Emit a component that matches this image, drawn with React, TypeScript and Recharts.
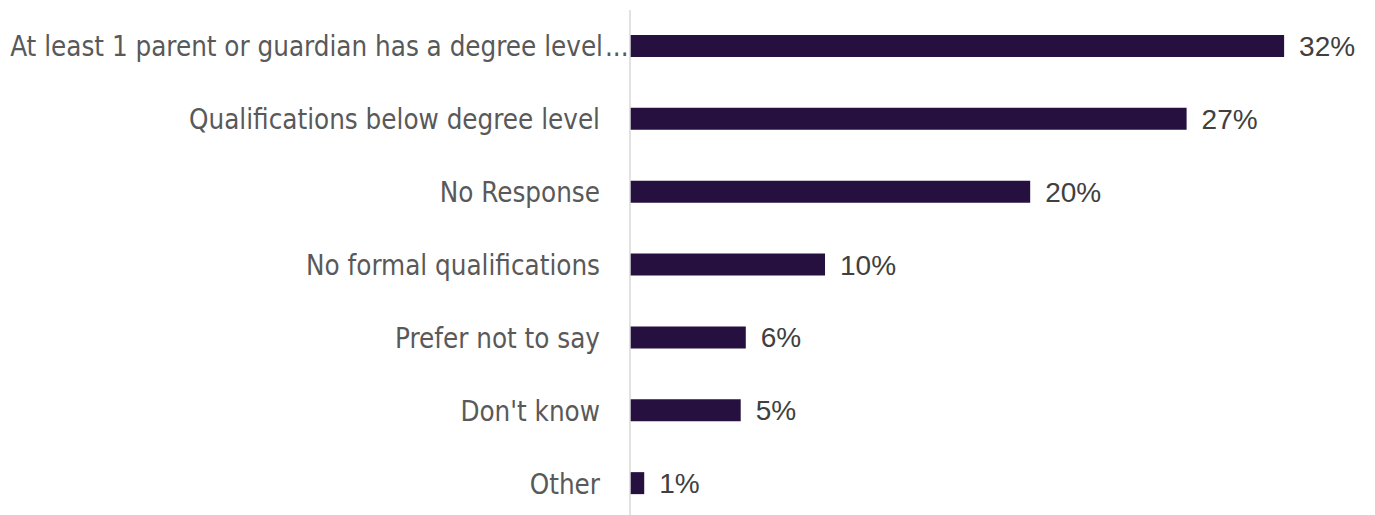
import React from "react";
import { BarChart, Bar, XAxis, YAxis, LabelList } from "recharts";

const categories = [
  "At least 1 parent or guardian has a degree level...",
  "Qualifications below degree level",
  "No Response",
  "No formal qualifications",
  "Prefer not to say",
  "Don't know",
  "Other",
];
const values = [32.2, 27.4, 19.7, 9.6, 5.7, 5.45, 0.7];

const data = categories.map((c, i) => ({ name: c, value: values[i] }));

const ELLIPSIS = "...";

const CategoryTick = (props: any) => {
  const { x, y, payload } = props;
  const label: string = payload.value;
  const truncated = label.endsWith(ELLIPSIS);
  const main = truncated ? label.slice(0, -ELLIPSIS.length) : label;
  const style = {
    fontFamily: "'DejaVu Sans Condensed', 'DejaVu Sans', sans-serif",
    fontStretch: "condensed" as const,
    fontSize: 27.5,
    fill: "#595959",
  };
  return (
    <g>
      <text x={x - (truncated ? 19 : 22)} y={y} dy={10} textAnchor="end" style={style}>
        {main}
      </text>
      {truncated && (
        <text x={x - 17} y={y} dy={10} textAnchor="start" style={style}>
          {ELLIPSIS}
        </text>
      )}
    </g>
  );
};

export default function App() {
  return (
    <div style={{ position: "absolute", left: 0, top: 0, background: "#fff" }}>
      <BarChart
        width={1375}
        height={520}
        data={data}
        layout="vertical"
        margin={{ top: 10, right: 34, bottom: 0, left: 0 }}
      >
        <XAxis type="number" domain={[0, 35]} hide />
        <YAxis
          type="category"
          dataKey="name"
          width={630}
          axisLine={{ stroke: "#d9d9d9", strokeWidth: 1.5 }}
          tickLine={false}
          interval={0}
          tick={<CategoryTick />}
        />
        <Bar dataKey="value" fill="#261040" barSize={22} isAnimationActive={false}>
          <LabelList
            dataKey="value"
            position="right"
            offset={15}
            formatter={(v: any) => `${Math.round(Number(v))}%`}
            style={{ fontFamily: "'Liberation Sans', Arial, sans-serif", fontSize: 28, fill: "#404040" }}
          />
        </Bar>
      </BarChart>
    </div>
  );
}
